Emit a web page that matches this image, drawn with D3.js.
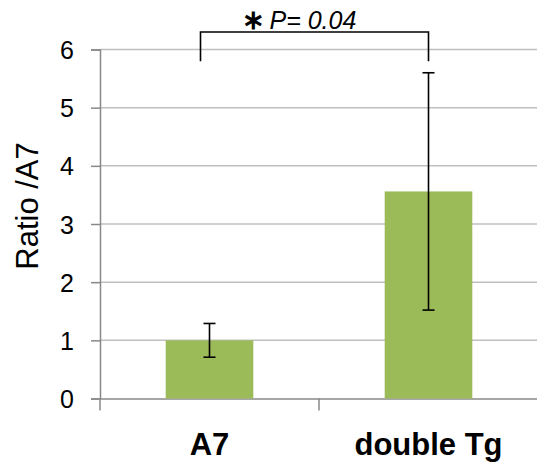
<!DOCTYPE html>
<html><head><meta charset="utf-8">
<script src="https://cdn.jsdelivr.net/npm/d3@7"></script>
<style>html,body{margin:0;padding:0;background:#fff;}svg{display:block;}</style>
</head><body><svg id="c" width="537" height="463"></svg>
<script>
const categories = ["A7", "double Tg"];
const values = [1.0, 3.56];
const errors = [0.29, 2.04];
const yTicks = [0, 1, 2, 3, 4, 5, 6];
const yTitle = "Ratio /A7";
const sigStar = "∗";
const sigText = "P= 0.04";

const svg = d3.select("#c");
const x = d3.scaleBand().domain(categories).range([100, 538]).padding(0);
const y = d3.scaleLinear().domain([0, 6]).range([398.5, 49.5]);
const barW = x.bandwidth() * 0.4;
const cx = d => x(d) + x.bandwidth() / 2;
const FONT = "Liberation Sans, Arial, sans-serif";

// gridlines
svg.append("g").selectAll("line").data(yTicks.filter(t => t > 0)).join("line")
  .attr("x1", 100).attr("x2", 537)
  .attr("y1", d => y(d)).attr("y2", d => y(d))
  .attr("stroke", "#bfbfbf").attr("stroke-width", 1.5);

// y axis
const yAxis = svg.append("g").attr("transform", "translate(100,0)")
  .call(d3.axisLeft(y).tickValues(yTicks).tickSize(9).tickPadding(17).tickFormat(d3.format("d")));
yAxis.select(".domain").attr("stroke", "#888").attr("stroke-width", 1.5);
yAxis.selectAll(".tick line").attr("stroke", "#888").attr("stroke-width", 1.5);
yAxis.selectAll(".tick text").attr("font-family", FONT)
  .attr("font-size", 25).attr("fill", "#000").attr("dy", "0.36em");

// x axis
const xAxis = svg.append("g").attr("transform", `translate(0,${y(0)})`)
  .call(d3.axisBottom(x).tickSize(0).tickFormat(""));
xAxis.select(".domain").attr("stroke", "#888").attr("stroke-width", 1.5);
svg.append("g").selectAll("line").data(categories).join("line")
  .attr("x1", d => x(d)).attr("x2", d => x(d))
  .attr("y1", y(0)).attr("y2", y(0) + 12)
  .attr("stroke", "#888").attr("stroke-width", 1.5);

// bars
svg.append("g").selectAll("rect").data(categories).join("rect")
  .attr("x", d => cx(d) - barW / 2)
  .attr("width", barW)
  .attr("y", (d, i) => y(values[i]))
  .attr("height", (d, i) => y(0) - y(values[i]))
  .attr("fill", "#9bbb59");

// error bars
const eb = svg.append("g").attr("stroke", "#000").attr("stroke-width", 1.6);
categories.forEach((c, i) => {
  const hi = y(values[i] + errors[i]), lo = y(values[i] - errors[i]);
  eb.append("line").attr("x1", cx(c)).attr("x2", cx(c)).attr("y1", hi).attr("y2", lo);
  eb.append("line").attr("x1", cx(c) - 6).attr("x2", cx(c) + 6).attr("y1", hi).attr("y2", hi);
  eb.append("line").attr("x1", cx(c) - 6).attr("x2", cx(c) + 6).attr("y1", lo).attr("y2", lo);
});

// x labels
svg.append("g").selectAll("text").data(categories).join("text")
  .attr("x", d => cx(d)).attr("y", 455)
  .attr("text-anchor", "middle")
  .attr("font-family", FONT)
  .attr("font-weight", "bold").attr("font-size", 31)
  .text(d => d);

// y title
svg.append("text")
  .attr("transform", `translate(38,206) rotate(-90)`)
  .attr("text-anchor", "middle")
  .attr("font-family", FONT)
  .attr("font-size", 31)
  .text(yTitle);

// significance bracket
const bx1 = cx(categories[0]) - 9, bx2 = cx(categories[1]);
const bTop = y(6.3), bBot = y(5.8);
svg.append("path")
  .attr("d", `M${bx1},${bBot}V${bTop}H${bx2}V${bBot}`)
  .attr("fill", "none").attr("stroke", "#000").attr("stroke-width", 1.6);
const st = svg.append("text")
  .attr("x", bx1 + 41).attr("y", bTop - 3)
  .attr("text-anchor", "start")
  .attr("font-family", FONT)
  .attr("font-size", 25);
st.append("tspan").attr("font-weight", "bold").attr("font-size", 27).text(sigStar);
st.append("tspan").attr("font-style", "italic").attr("dx", 5).text(sigText);
</script></body></html>
